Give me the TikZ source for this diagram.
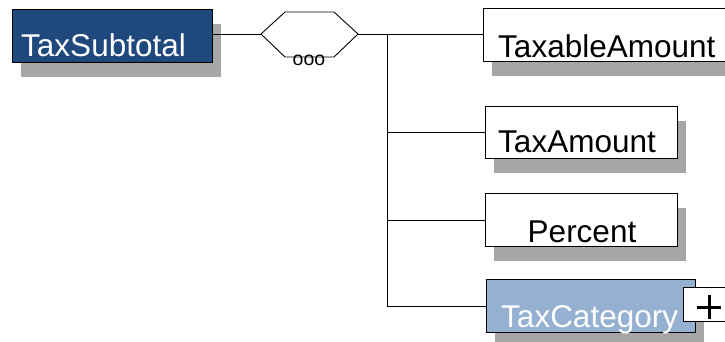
\documentclass[tikz,border=0pt]{standalone}
\usepackage{fontspec}
\setmainfont{Liberation Sans}
\usetikzlibrary{shadows}
\definecolor{darkblue}{RGB}{31,72,124}
\definecolor{lightblue}{RGB}{150,176,210}
\definecolor{shadowgray}{RGB}{166,166,166}

\begin{document}
\begin{tikzpicture}[x=1pt,y=-1pt,
  elem/.style={draw=black, line width=0.9pt, rectangle, inner sep=0pt, anchor=north west,
    general shadow={fill=shadowgray, draw=none, shadow xshift=9pt, shadow yshift=-15pt}},
  lbl/.style={anchor=base west, inner sep=0pt, font=\fontsize{31.5}{36}\selectfont},
  conn/.style={line width=0.9pt}]

\clip (0,0) rectangle (725,342);
\fill[white] (0,0) rectangle (725,342);

% parent element
\node[elem, fill=darkblue, minimum width=200pt, minimum height=53pt] (sub) at (12,9) {};
\node[lbl, text=white] (subt) at (21,57) {TaxSubtotal};

% sequence compositor
\coordinate (hexL) at (261,34);
\coordinate (hexR) at (358,34);
\draw[conn, fill=white] (hexL) -- (285,12) -- (334,12) -- (hexR) -- (334,57) -- (285,57) -- cycle;
\node[inner sep=0pt, font=\fontsize{19.5}{22}\selectfont] (dots) at (309,60) {ooo};

% child elements
\node[elem, fill=white, minimum width=250pt, minimum height=53pt] (ta) at (483,8) {};
\node[lbl] (tat) at (498,58) {TaxableAmount};

\node[elem, fill=white, minimum width=192pt, minimum height=52pt] (tam) at (485,106) {};
\node[lbl] (tamt) at (498,152) {TaxAmount};

\node[elem, fill=white, minimum width=192pt, minimum height=53pt] (pc) at (485,193) {};
\node[lbl, anchor=base] (pct) at (582,242) {Percent};

\node[elem, fill=lightblue, minimum width=209pt, minimum height=53pt] (tc) at (486,279) {};
\node[lbl, text=white] (tct) at (501,327) {TaxCategory};

% expand marker
\node[draw=black, line width=0.9pt, fill=white, inner sep=0pt, anchor=north west,
  minimum width=52pt, minimum height=34pt] (plus) at (683,287) {};
\draw[line width=3pt] (697,307) -- (721,307);
\draw[line width=3pt] (709,295) -- (709,319);

% connectors
\draw[conn] (hexL -| sub.east) -- (hexL);
\coordinate (bus) at (387,34);
\draw[conn] (hexR) -- (hexR -| ta.west);
\draw[conn] (bus) -- (bus |- tc.west);
\draw[conn] (bus |- tam.west) -- (tam.west);
\draw[conn] (bus |- pc.west) -- (pc.west);
\draw[conn] (bus |- tc.west) -- (tc.west);
\end{tikzpicture}
\end{document}
